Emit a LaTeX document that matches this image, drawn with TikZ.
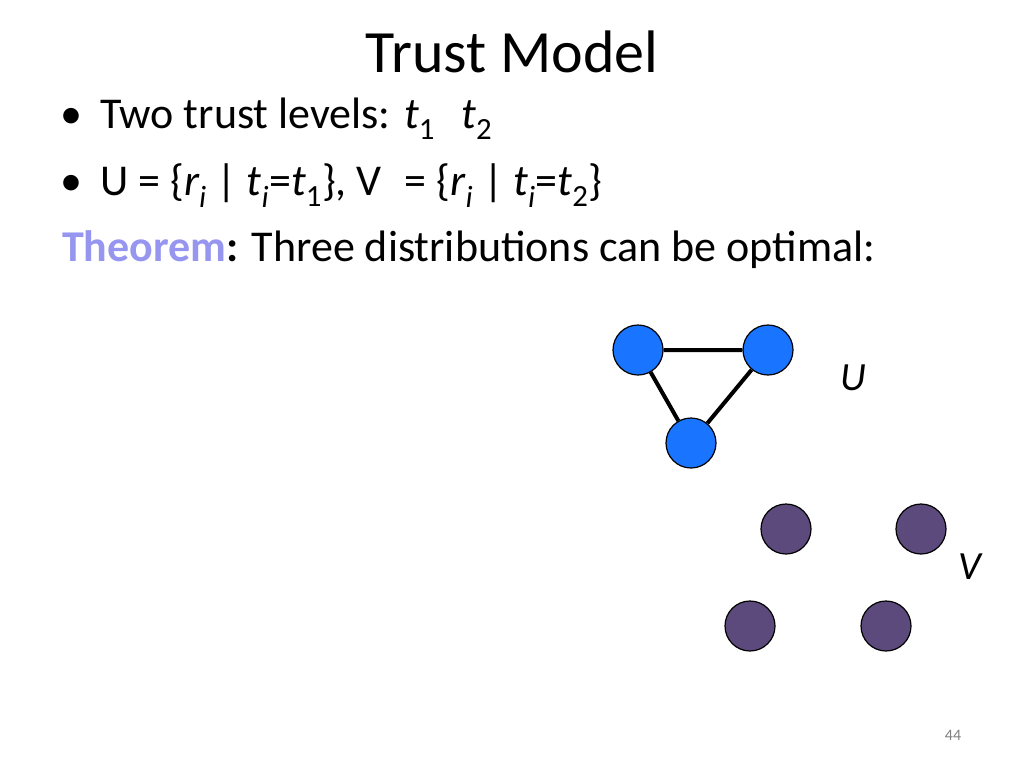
\documentclass[tikz,border=0pt]{standalone}
\usepackage{fontspec}
\setmainfont{Carlito}
\begin{document}
\begin{tikzpicture}[x=1pt,y=-1pt,
 bn/.style={circle,draw=black,line width=1.2pt,fill=blue!60!cyan!90!white,minimum size=50pt,inner sep=0pt},
 pn/.style={circle,draw=black,line width=1.2pt,fill={rgb,255:red,93;green,74;blue,125},minimum size=50pt,inner sep=0pt},
 txt/.style={anchor=base west,font=\fontsize{44}{50}\selectfont,inner sep=0pt}]
\useasboundingbox (0,0) rectangle (1024,768);
\node[font=\fontsize{60}{66}\selectfont,anchor=base,inner sep=0pt] (title) at (512,72) {Trust Model};
\node[txt] (b1) at (60,128) {•};
\node[txt] (l1) at (100,128) {Two trust levels: \textit{t}\textsubscript{1}\hspace{0.6em}\textit{t}\textsubscript{2}};
\node[txt] (b2) at (60,195) {•};
\node[txt] (l2) at (100,195) {U = \{\textit{r\textsubscript{i}} | \textit{t\textsubscript{i}}=\textit{t}\textsubscript{1}\}, V\hspace{0.3em} = \{\textit{r\textsubscript{i}} | \textit{t\textsubscript{i}}=\textit{t}\textsubscript{2}\}};
\node[txt] (l3) at (62,261) {\textbf{\textcolor[RGB]{150,150,240}{Theorem}:} Three distributions can be optimal:};
\node[bn] (a) at (638,350) {};
\node[bn] (b) at (768,350) {};
\node[bn] (c) at (691,443) {};
\draw[line width=4pt] (a) -- (b) (a) -- (c) (b) -- (c);
\node[font=\fontsize{40}{44}\selectfont\itshape] (U) at (853,378) {U};
\node[pn] (p1) at (786,529) {};
\node[pn] (p2) at (921,529) {};
\node[pn] (p3) at (750,626) {};
\node[pn] (p4) at (886,626) {};
\node[font=\fontsize{40}{44}\selectfont\itshape] (V) at (970,567) {V};
\node[font=\fontsize{16}{18}\selectfont,text=gray] (n) at (953,735) {44};
\end{tikzpicture}
\end{document}
